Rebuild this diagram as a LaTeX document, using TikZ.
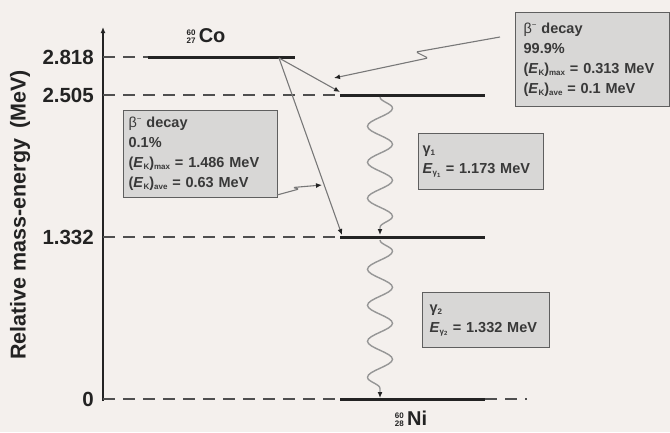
\documentclass[tikz,border=0pt]{standalone}
\usepackage{fontspec}
\setmainfont{Liberation Sans}
\usetikzlibrary{arrows.meta,decorations.pathmorphing,calc}

\definecolor{paper}{RGB}{244,240,237}
\definecolor{boxfill}{RGB}{216,215,214}
\definecolor{boxline}{RGB}{95,95,95}
\definecolor{ink}{RGB}{35,35,35}
\definecolor{linegray}{RGB}{120,120,120}
\definecolor{wavegray}{RGB}{150,150,150}

% small raised / lowered text
\newcommand{\subtag}[1]{\raisebox{-2pt}{\fontsize{8}{8}\selectfont #1}}
\newcommand{\isotope}[3]{\makebox[0pt][l]{\raisebox{7pt}{\fontsize{8}{8}\selectfont #1}}%
  \raisebox{-0.5pt}{\fontsize{8}{8}\selectfont #2}\,#3}
\newcommand{\betaminus}{{\mdseries β\raisebox{6pt}{\fontsize{8}{8}\selectfont −}}}

\tikzset{
  level/.style={line width=3pt, ink},
  guide/.style={line width=2.2pt, ink!80, dash pattern=on 12pt off 8pt},
  tick/.style={anchor=east, inner sep=0pt, font=\bfseries\fontsize{20.5}{20.5}\selectfont, text=ink},
  infobox/.style={draw=boxline, line width=1.3pt, fill=boxfill, align=left,
    anchor=north west, inner ysep=0pt, text=ink!90,
    font=\bfseries\fontsize{14.5}{20}\selectfont},
  betaline/.style={draw=linegray, line width=1.1pt, -{Latex[length=6pt,width=5pt,color=ink]}},
  pointer/.style={draw=linegray, line width=1.1pt, rounded corners=1.5pt,
    -{Latex[length=6pt,width=5pt,color=ink]}},
  gammaline/.style={draw=wavegray, line width=1.4pt,
    decorate, decoration={snake, segment length=36pt, amplitude=12.5pt, post length=7pt},
    -{Latex[length=6pt,width=5pt,color=ink]}}
}

\begin{document}
\begin{tikzpicture}[x=1pt, y=-1pt]
    \fill[paper] (0,0) rectangle (670,432);
    \useasboundingbox (0,0) rectangle (670,432);

    % axis
    \coordinate (origin) at (103,401);
    \coordinate (top) at (103,27);
    \draw[ink, line width=1.4pt, -{Latex[length=6pt,width=5pt]}] (origin) -- (top);
    \node[rotate=90, font=\bfseries\fontsize{21.5}{21.5}\selectfont, text=ink] (ylabel)
        at (20,215) {Relative mass-energy\hspace{4pt} (MeV)};

    % level ends
    \coordinate (co1) at (148,57);  \coordinate (co2) at (295,57);
    \coordinate (ex1) at (340,95);  \coordinate (ex2) at (485,95);
    \coordinate (md1) at (340,237); \coordinate (md2) at (485,237);
    \coordinate (gs1) at (340,399); \coordinate (gs2) at (485,399);
    \coordinate (gs3) at (527,399);

    % dashed guides and values
    \draw[guide] (103,57) -- (co1);
    \draw[guide] (103,95) -- (ex1);
    \draw[guide] (103,237) -- (md1);
    \draw[guide] (103,399) -- (gs1);
    \draw[guide] (gs2) -- (gs3);
    \node[tick] (t1) at (94,57) {2.818};
    \node[tick] (t2) at (94,95) {2.505};
    \node[tick] (t3) at (94,237) {1.332};
    \node[tick] (t4) at (94,399) {0};

    % levels
    \draw[level] (co1) -- (co2);
    \draw[level] (ex1) -- (ex2);
    \draw[level] (md1) -- (md2);
    \draw[level] (gs1) -- (gs2);

    \node[font=\bfseries\fontsize{20}{20}\selectfont, text=ink] (co) at (206,36) {\isotope{60}{27}{Co}};
    \node[font=\bfseries\fontsize{20}{20}\selectfont, text=ink] (ni) at (411,419) {\isotope{60}{28}{Ni}};

    % beta branches
    \coordinate (src) at (279,58);
    \coordinate (hitA) at (340,92);
    \coordinate (hitB) at (342,235);
    \draw[betaline] (src) -- (hitA);
    \draw[betaline] (src) -- (hitB);

    % gamma cascade
    \coordinate (g1a) at (380,97);  \coordinate (g1b) at (380,235);
    \coordinate (g2a) at (380,240); \coordinate (g2b) at (380,398);
    \draw[gammaline] (g1a) -- (g1b);
    \draw[gammaline] (g2a) -- (g2b);

    % info boxes
    \node[infobox, minimum width=154pt, minimum height=94pt, inner xsep=8pt, text width=138pt]
        (major) at (515,12) {\betaminus{} decay\\99.9\%\\(\textit{E}\subtag{K})\subtag{max} = 0.313 MeV\\(\textit{E}\subtag{K})\subtag{ave} = 0.1 MeV};
    \node[infobox, minimum width=154pt, minimum height=87pt, inner xsep=5pt, text width=144pt]
        (minor) at (123,110) {\betaminus{} decay\\0.1\%\\(\textit{E}\subtag{K})\subtag{max} = 1.486 MeV\\(\textit{E}\subtag{K})\subtag{ave} = 0.63 MeV};
    \node[infobox, minimum width=125pt, minimum height=56pt, inner xsep=4pt, text width=117pt]
        (gone) at (418,133) {γ\subtag{1}\\\textit{E}\subtag{γ\textsubscript{1}} = 1.173 MeV};
    \node[infobox, minimum width=127pt, minimum height=55pt, inner xsep=7pt, text width=113pt]
        (gtwo) at (422,292) {γ\subtag{2}\\\textit{E}\subtag{γ\textsubscript{2}} = 1.332 MeV};

    % pointers from boxes
    \coordinate (pa) at (500,37);
    \coordinate (pb) at (334,78);
    \draw[pointer] (pa) -- (416,52) -- (428,58) -- (pb);
    \coordinate (pc) at (277,195);
    \coordinate (pd) at (322,185);
    \draw[pointer] (pc) -- (299,189) -- (293,187.5) -- (pd);
\end{tikzpicture}
\end{document}
